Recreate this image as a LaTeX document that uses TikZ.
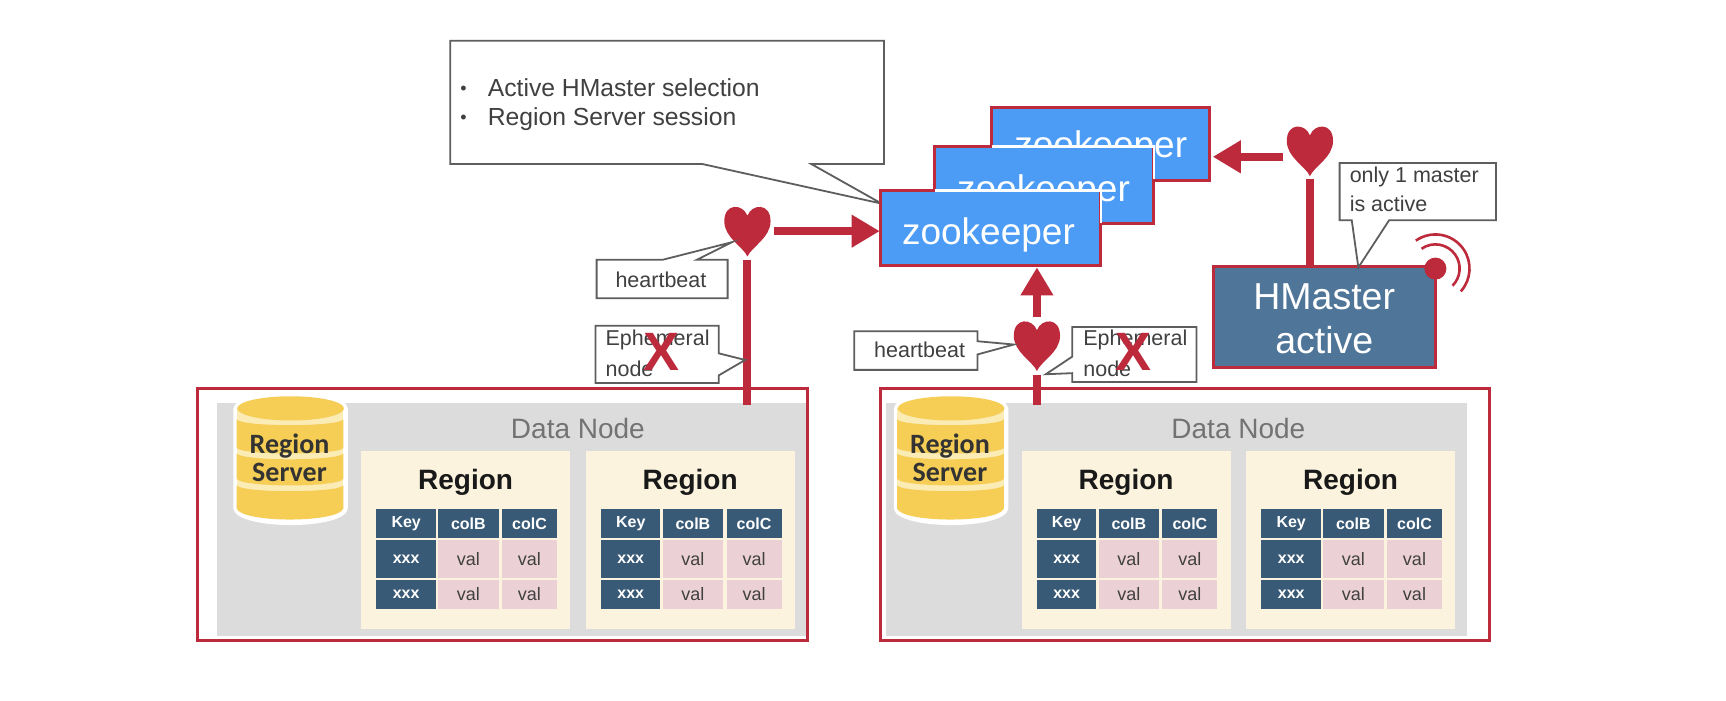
\documentclass[tikz,border=0pt]{standalone}
\usepackage{fontspec}
\setmainfont{Liberation Sans}
\newfontfamily\calib{Carlito}
\usetikzlibrary{arrows.meta,calc}
\definecolor{rd}{HTML}{BC2A3C}
\definecolor{blu}{HTML}{4C9CF6}
\definecolor{hm}{HTML}{4F7598}
\definecolor{tb}{HTML}{395A76}
\definecolor{pk}{HTML}{EBD1D5}
\definecolor{crm}{HTML}{FBF3DD}
\definecolor{gy}{HTML}{DCDCDC}
\definecolor{yl}{HTML}{F6CE55}
\definecolor{lyl}{HTML}{FBEBB4}
\definecolor{ln}{HTML}{5E5E5E}
\newcount\cellno
\newcommand\fs[1]{\fontsize{#1}{#1}\selectfont}
\tikzset{
 x=1.1008pt,y=-1.1008pt,
 cellbox/.style={inner sep=0pt,outer sep=0pt,text=white,font=\fs{16}\bfseries},
 valbox/.style={cellbox,text=black!75,font=\fs{18}},
 conn/.style={draw=rd,line width=8pt},
 connarrow/.style={conn,-{Triangle[length=28pt,width=31pt]}},
 callout/.style={draw=ln,fill=white,line width=1.8pt,line join=miter},
 zkbox/.style={draw=rd,fill=blu,line width=3.2pt,inner sep=0pt,outer sep=0pt},
 zktext/.style={inner sep=0pt,text=white,font=\fs{37}},
 cross/.style={inner sep=0pt,text=rd,font=\fs{54}\bfseries},
 lab/.style={inner sep=0pt,text=black!75,font=\fs{21.5},align=left,anchor=west},
 heartanchor/.style={minimum width=46pt,minimum height=48pt,inner sep=0pt,outer sep=0pt},
 frameline/.style={rd,line width=3pt},
}
\newcommand\cell[7]{% x1 y1 x2 y2 style fill text
 \global\advance\cellno by 1
 \pgfmathsetmacro\cw{(#3-#1)*1.1008}\pgfmathsetmacro\ch{(#4-#2)*1.1008}
 \node[#5,fill=#6,minimum width=\cw pt,minimum height=\ch pt] (cell\the\cellno) at ({(#1+#3)/2},{(#2+#4)/2}) {#7};}
\newcommand\regionbox[2]{% x-origin, name
 \begin{scope}[shift={(#1,0)}]
 \fill[crm] (328,410) rectangle (518,571);
 \node[inner sep=0pt,text=black!90,font=\fs{28}\bfseries] (#2t) at (423,438) {Region};
 \cell{342}{462}{396}{489}{cellbox}{tb}{Key}
 \cell{398}{462}{453}{489}{cellbox}{tb}{colB}
 \cell{456}{462}{506}{489}{cellbox}{tb}{colC}
 \cell{342}{491}{396}{525}{cellbox}{tb}{xxx}
 \cell{398}{491}{453}{525}{valbox}{pk}{val}
 \cell{456}{491}{506}{525}{valbox}{pk}{val}
 \cell{342}{527}{396}{553}{cellbox}{tb}{xxx}
 \cell{398}{527}{453}{553}{valbox}{pk}{val}
 \cell{456}{527}{506}{553}{valbox}{pk}{val}
 \end{scope}}
\newcommand\band[3]{% top y, bottom y, bottom radius
 \fill[yl] (215,#1) .. controls (220,{#1+7}) and (307,{#1+7}) .. (312,#1) -- (312,#2)
   .. controls (307,{#2+#3*1.33}) and (220,{#2+#3*1.33}) .. (215,#2) -- cycle;}
\newcommand\datanode[3]{% shift, name, gray left edge
 \begin{scope}[shift={(#1,0)}]
 \fill[gy] (#3,366) rectangle (733,578);
 \node[inner sep=0pt,text=black!55,font=\fs{28}] (#2lbl) at (525,389) {Data Node};
 \fill[white] (212,371) .. controls (214,352) and (314,352) .. (316,371) -- (316,462)
   .. controls (314,482) and (214,482) .. (212,462) -- cycle;
 \fill[lyl] (215,371) rectangle (312,462);
 \fill[yl] (264,371) ellipse[x radius=48.5,y radius=11];
 \band{381}{407}{5}
 \band{412}{435}{6}
 \band{441}{462}{10}
 \node[inner sep=0pt,text=black!80,align=center,font=\calib\fs{28}\bfseries] (#2rs) at (263,416) {Region\\[0pt]Server};
 \end{scope}
 \regionbox{#1}{#2a}
 \regionbox{\numexpr#1+204\relax}{#2b}}
\newcommand\heartat[3]{% x y name
 \node[heartanchor] (#3) at (#1,#2) {};
 \fill[rd] (#1,#2+23) .. controls (#1-4,#2+14) and (#1-21,#2+6) .. (#1-21,#2-9)
  .. controls (#1-21,#2-26) and (#1-4,#2-25) .. (#1,#2-14)
  .. controls (#1+4,#2-25) and (#1+21,#2-26) .. (#1+21,#2-9)
  .. controls (#1+21,#2+6) and (#1+4,#2+14) .. (#1,#2+23) -- cycle;}
\begin{document}
\begin{tikzpicture}
\useasboundingbox (0,0) rectangle (1568,636);
\fill[white] (0,0) rectangle (1568,636);
\datanode{0}{dA}{197}
\datanode{600}{dB}{205}
\draw[frameline] (179,353) rectangle (734,582);
\draw[frameline] (800,353) rectangle (1353,582);
\coordinate (dAtop) at (679,368);
\coordinate (dBtop) at (942,368);
% main callout
\draw[callout] (409,37) -- (803,37) -- (803,149) -- (737,149) -- (801,185) -- (638,149) -- (409,149) -- cycle;
\node[lab,font=\fs{24.7}] (t1) at (443,80) {Active HMaster selection};
\node[lab,font=\fs{24.7}] (t2) at (443,108) {Region Server session};
\node[lab,font=\fs{18}] (b1) at (418,82) {•};
\node[lab,font=\fs{18}] (b2) at (418,108) {•};
% zookeepers
\node[zkbox,minimum width=218pt,minimum height=73pt] (z3) at (1000,130.5) {};
\node[zktext] (z3t) at (1000,134) {zookeeper};
\node[zkbox,minimum width=219pt,minimum height=77pt] (z2) at (948.5,168) {};
\node[zktext] (z2t) at (948,174) {zookeeper};
\draw[white,line width=2.4pt] (901,133) -- (1048.5,133) -- (1048.5,163);
\node[zkbox,minimum width=220pt,minimum height=75pt] (z1) at (900,207) {};
\node[zktext] (z1t) at (898,213) {zookeeper};
\draw[white,line width=2.4pt] (849,173) -- (1000,173) -- (1000,203);
% hmaster
\node[draw=rd,fill=hm,line width=3.2pt,inner sep=0pt,minimum width=222pt,minimum height=101pt] (hm) at (1203,288) {};
\node[zktext,font=\fs{37.5}] (hm1) at (1203,270) {HMaster};
\node[zktext,font=\fs{37.5}] (hm2) at (1203,309) {active};
\fill[rd] (1304,244) circle[radius=10];
\draw[rd,line width=2.6pt] (1304,244) ++(-125:22) arc[start angle=-125,end angle=45,radius=22];
\draw[rd,line width=2.6pt] (1304,244) ++(-125:31) arc[start angle=-125,end angle=42,radius=31];
% hearts
\heartat{679}{210}{h1}
\heartat{942}{314}{h2}
\heartat{1190}{137}{h3}
% connectors
\coordinate (j3) at (1190,243);
\draw[conn] ([yshift=-5pt]h1.south) -- (dAtop);
\draw[connarrow] ([xshift=4pt]h1.east) -- ([xshift=-1pt]h1.east -| z1.west);
\draw[connarrow] ([yshift=5pt]h2.north) -- ([yshift=-2pt]h2.north |- z1.south);
\draw[conn] ([yshift=-5pt]h2.south) -- (dBtop);
\draw[connarrow] ([xshift=-4pt,yshift=-6pt]h3.west) -- ([yshift=-6pt,xshift=3pt]h3.west -| z3.east);
\draw[conn] ([yshift=-4pt]h3.south) -- (j3);
% small callouts
\draw[callout] (542,236) -- (602,236) -- (665,220) -- (633,236) -- (661,236) -- (661,271) -- (542,271) -- cycle;
\node[lab] (hb1) at (559,254) {heartbeat};
\draw[callout] (541,296) -- (653,296) -- (653,321) -- (677,327) -- (653,341) -- (653,348) -- (541,348) -- cycle;
\node[lab] (e1a) at (550,309) {Ephemeral};
\node[lab] (e1b) at (550,335) {node};
\node[cross] (x1) at (601,320) {X};
\draw[callout] (776,301) -- (888,301) -- (888,310) -- (921,313) -- (888,322) -- (888,336) -- (776,336) -- cycle;
\node[lab] (hb2) at (794,318) {heartbeat};
\draw[callout] (974,297) -- (1087,297) -- (1087,347) -- (974,347) -- (974,339) -- (950,340) -- (974,324) -- cycle;
\node[lab] (e2a) at (984,309) {Ephemeral};
\node[lab] (e2b) at (984,335) {node};
\node[cross] (x2) at (1030,320) {X};
\draw[callout] (1217,148) -- (1359,148) -- (1359,200) -- (1262,200) -- (1234,243) -- (1228,200) -- (1217,200) -- cycle;
\node[lab] (o1) at (1226,161) {only 1 master};
\node[lab] (o2) at (1226,185) {is active};
\end{tikzpicture}
\end{document}
